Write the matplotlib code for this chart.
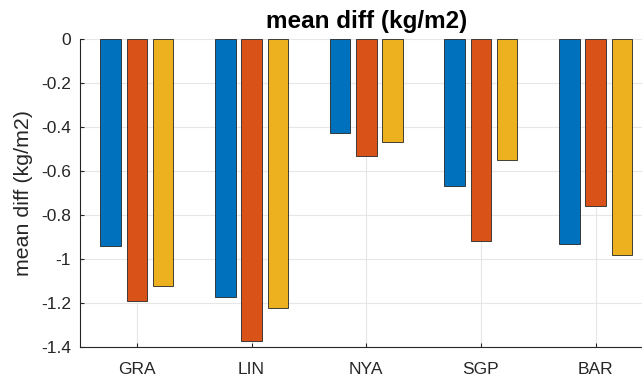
import matplotlib
matplotlib.use("Agg")
import matplotlib.pyplot as plt
import numpy as np

categories = ["GRA", "LIN", "NYA", "SGP", "BAR"]
series1 = [-0.94, -1.17, -0.43, -0.67, -0.93]
series2 = [-1.19, -1.37, -0.53, -0.92, -0.76]
series3 = [-1.12, -1.22, -0.47, -0.55, -0.98]
yticks = [0, -0.2, -0.4, -0.6, -0.8, -1, -1.2, -1.4]
ytick_labels = ["0", "-0.2", "-0.4", "-0.6", "-0.8", "-1", "-1.2", "-1.4"]

colors = ["#0072BD", "#D95319", "#EDB120"]

plt.rcParams['font.family'] = ['Liberation Sans', 'DejaVu Sans']

fig = plt.figure(figsize=(6.42, 3.77), dpi=100)
left, right = 79.5, 653.0
top, bottom = 38.7, 347.3
ax = fig.add_axes([left/642, (377-bottom)/377, (right-left)/642, (bottom-top)/377])

x = np.arange(1, len(categories) + 1)
width = 0.179
offset = 0.229
for i, (vals, c) in enumerate(zip([series1, series2, series3], colors)):
    ax.bar(x + (i - 1) * offset, vals, width=width, color=c,
           edgecolor="#262626", linewidth=0.6, zorder=3)

ax.set_xlim(0.5, 5.5)
ax.set_ylim(-1.4, 0)
ax.set_xticks(x)
ax.set_xticklabels(categories)
ax.set_yticks(yticks)
ax.set_yticklabels(ytick_labels)
ax.grid(True, color="#e6e6e6", linewidth=0.8, zorder=0)
ax.set_axisbelow(True)
for s in ["top", "right"]:
    ax.spines[s].set_visible(False)
for s in ["left", "bottom"]:
    ax.spines[s].set_color("#262626")
    ax.spines[s].set_linewidth(0.8)
ax.tick_params(axis="both", direction="in", length=3, colors="#262626",
               labelsize=12.5, labelcolor="#262626")
ax.tick_params(axis="x", pad=10.5)
ax.tick_params(axis="y", pad=6)
ax.set_ylabel("mean diff (kg/m2)", fontsize=15.4, color="#262626", labelpad=6)
ax.set_title("mean diff (kg/m2)", fontsize=17.5, fontweight="bold", pad=7.5)

fig.savefig("out.png", dpi=100)
